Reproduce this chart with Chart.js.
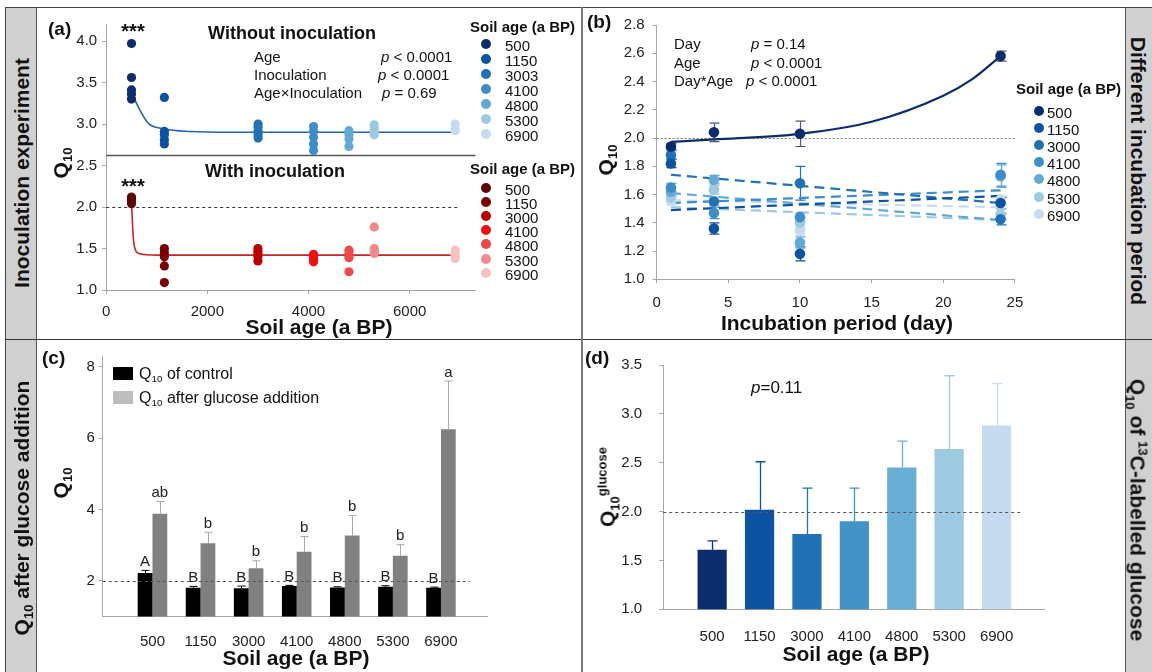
<!DOCTYPE html>
<html><head><meta charset="utf-8">
<script src="https://cdn.jsdelivr.net/npm/chart.js@4.4.1/dist/chart.umd.min.js"></script>
<style>
html,body{margin:0;padding:0;background:#fff;}
body{width:1152px;height:672px;position:relative;overflow:hidden;font-family:'Liberation Sans',Arial,sans-serif;color:#111;}
canvas{position:absolute;}
.t{position:absolute;white-space:nowrap;line-height:1;}
.l{transform:translateY(-50%);}
.c{transform:translate(-50%,-50%);}
.rl{transform:translate(-50%,-50%) rotate(-90deg);}
.rr{transform:translate(-50%,-50%) rotate(90deg);}
.b{font-weight:bold;}
sub{font-size:0.62em;vertical-align:-0.35em;line-height:0;}
sup{font-size:0.62em;vertical-align:0.65em;line-height:0;}
.box{position:absolute;}
.dot{position:absolute;border-radius:50%;width:10px;height:10px;transform:translate(-50%,-50%);}
</style></head><body>
<!-- frame -->
<div class="box" style="left:5px;top:7px;width:31px;height:665px;background:#d0d0d0;"></div>
<div class="box" style="left:1125px;top:7px;width:27px;height:665px;background:#d0d0d0;"></div>
<div class="box" style="left:5px;top:7px;width:1147px;height:1px;background:#444;"></div>
<div class="box" style="left:5px;top:7px;width:1px;height:665px;background:#444;"></div>
<div class="box" style="left:36px;top:7px;width:1px;height:665px;background:#555;"></div>
<div class="box" style="left:1125px;top:7px;width:1px;height:665px;background:#555;"></div>
<div class="box" style="left:5px;top:339px;width:1147px;height:1px;background:#333;"></div>
<div class="box" style="left:581px;top:7px;width:2px;height:665px;background:#7a7a7a;"></div>

<canvas id="ca" width="546" height="331" style="left:36px;top:8px;"></canvas>
<canvas id="cb" width="543" height="331" style="left:582px;top:8px;"></canvas>
<canvas id="cc" width="546" height="333" style="left:36px;top:339px;"></canvas>
<canvas id="cd" width="543" height="333" style="left:582px;top:339px;"></canvas>

<!-- side labels -->
<div class="t rl b" style="left:21px;top:173px;font-size:21px;">Inoculation experiment</div>
<div class="t rl b" style="left:21px;top:508px;font-size:21px;">Q<sub>10</sub> after glucose addition</div>
<div class="t rr b" style="left:1138px;top:171px;font-size:21px;">Different incubation period</div>
<div class="t rr b" style="left:1138px;top:510px;font-size:21px;">Q<sub>10</sub> of <sup>13</sup>C-labelled glucose</div>

<!-- panel a text -->
<div class="t l b" style="left:48px;top:28px;font-size:19px;">(a)</div>
<div class="t c b" style="left:133px;top:31px;font-size:20px;">***</div>
<div class="t c b" style="left:133px;top:186px;font-size:20px;">***</div>
<div class="t c b" style="left:292px;top:33px;font-size:18px;">Without inoculation</div>
<div class="t l" style="left:254px;top:56px;font-size:15px;">Age</div>
<div class="t l" style="left:381px;top:56px;font-size:15px;"><i>p</i> &lt; 0.0001</div>
<div class="t l" style="left:254px;top:74px;font-size:15px;">Inoculation</div>
<div class="t l" style="left:378px;top:74px;font-size:15px;"><i>p</i> &lt; 0.0001</div>
<div class="t l" style="left:254px;top:92px;font-size:15px;">Age×Inoculation</div>
<div class="t l" style="left:382px;top:92px;font-size:15px;"><i>p</i> = 0.69</div>
<div class="t c b" style="left:275px;top:171px;font-size:18px;">With inoculation</div>
<div class="t rl b" style="left:60px;top:163px;font-size:21px;">Q<sub>10</sub></div>
<div class="t c b" style="left:319px;top:326px;font-size:21px;">Soil age (a BP)</div>
<div class="t l b" style="left:470px;top:26px;font-size:15px;">Soil age (a BP)</div>
<div class="t l b" style="left:470px;top:168px;font-size:15px;">Soil age (a BP)</div>
<div id="legA"></div>

<!-- panel b text -->
<div class="t l b" style="left:587px;top:21px;font-size:19px;">(b)</div>
<div class="t l" style="left:674px;top:43px;font-size:15px;">Day</div>
<div class="t l" style="left:751px;top:43px;font-size:15px;"><i>p</i> = 0.14</div>
<div class="t l" style="left:674px;top:62px;font-size:15px;">Age</div>
<div class="t l" style="left:751px;top:62px;font-size:15px;"><i>p</i> &lt; 0.0001</div>
<div class="t l" style="left:674px;top:80px;font-size:15px;">Day*Age</div>
<div class="t l" style="left:746px;top:80px;font-size:15px;"><i>p</i> &lt; 0.0001</div>
<div class="t l b" style="left:1016px;top:88px;font-size:15px;">Soil age (a BP)</div>
<div class="t rl b" style="left:605px;top:160px;font-size:21px;">Q<sub>10</sub></div>
<div class="t c b" style="left:837px;top:322px;font-size:21px;">Incubation period (day)</div>
<div id="legB"></div>

<!-- panel c text -->
<div class="t l b" style="left:42px;top:357px;font-size:19px;">(c)</div>
<div class="box" style="left:113px;top:367px;width:20px;height:13px;background:#000;"></div>
<div class="t l" style="left:139px;top:374px;font-size:16px;">Q<sub>10</sub> of control</div>
<div class="box" style="left:113px;top:391px;width:20px;height:13px;background:#bdbdbd;"></div>
<div class="t l" style="left:139px;top:398px;font-size:16px;">Q<sub>10</sub> after glucose addition</div>
<div class="t rl b" style="left:60px;top:483px;font-size:21px;">Q<sub>10</sub></div>
<div class="t c b" style="left:296px;top:657px;font-size:21px;">Soil age (a BP)</div>

<!-- panel d text -->
<div class="t l b" style="left:585px;top:357px;font-size:19px;">(d)</div>
<div class="t l" style="left:751px;top:387px;font-size:17px;"><i>p</i>=0.11</div>
<div class="t rl b" style="left:607px;top:487px;font-size:21px;">Q<sub>10</sub><sup>glucose</sup></div>
<div class="t c b" style="left:856px;top:653px;font-size:21px;">Soil age (a BP)</div>

<script>
// ---------------- data ----------------
// Panel (a)
const agesWithout = [500, 1150, 3003, 4100, 4800, 5300, 6900];
const agesWith = [500, 1150, 3000, 4100, 4800, 5300, 6900];
const q10Without = [
  [3.97, 3.56, 3.41, 3.36, 3.30],
  [3.32, 2.91, 2.87, 2.81, 2.76],
  [3.00, 2.96, 2.91, 2.87, 2.83],
  [2.97, 2.91, 2.84, 2.76, 2.68],
  [2.92, 2.87, 2.82, 2.73],
  [2.99, 2.95, 2.91, 2.87],
  [3.00, 2.95, 2.92]
];
const q10With = [
  [2.12, 2.10, 2.08, 2.04],
  [1.50, 1.45, 1.40, 1.29, 1.09],
  [1.50, 1.46, 1.43, 1.40, 1.35],
  [1.43, 1.40, 1.37, 1.34],
  [1.48, 1.44, 1.42, 1.39, 1.22],
  [1.76, 1.50, 1.47, 1.44],
  [1.48, 1.43, 1.41, 1.38]
];
const fitWithoutAge = [500, 664, 829, 1158, 1651, 2500, 6900];
const fitWithoutQ10 = [3.38, 3.17, 3.01, 2.94, 2.91, 2.90, 2.90];
const fitWithAge = [500, 520, 540, 580, 650, 800, 1200, 6900];
const fitWithQ10 = [2.06, 1.80, 1.60, 1.48, 1.44, 1.425, 1.42, 1.42];
const xTicksA = [0, 2000, 4000, 6000];
const yTicksA = [1.0, 1.5, 2.0, 2.5, 3.0, 3.5, 4.0];

// Panel (b)
const days = [1, 4, 10, 24];
const agesB = ['500', '1150', '3000', '4100', '4800', '5300', '6900'];
const q10Day = [
  [1.94, 2.04, 2.03, 2.58],
  [1.82, 1.36, 1.18, 1.54],
  [1.88, 1.55, 1.68, 1.425],
  [1.65, 1.47, 1.44, 1.74],
  [1.62, 1.705, 1.26, 1.73],
  [1.58, 1.635, 1.40, 1.46],
  [1.555, 1.55, 1.345, 1.565]
];
const q10DaySE = [
  [0.02, 0.065, 0.09, 0.035],
  [0.03, 0.04, 0.05, 0.04],
  [0.03, 0.03, 0.12, 0.04],
  [0.03, 0.04, 0.03, 0.08],
  [0.03, 0.03, 0.04, 0.08],
  [0.03, 0.03, 0.04, 0.04],
  [0.03, 0.03, 0.03, 0.03]
];
const trendDays = [1, 24];
const trendQ10 = [null, [1.49, 1.59], [1.74, 1.54], [1.54, 1.63], [1.61, 1.42], [1.51, 1.42], [1.56, 1.51]];
const curve500Days = [1, 4, 10, 15, 20, 22, 24];
const curve500Q10 = [1.973, 1.99, 2.03, 2.115, 2.30, 2.415, 2.58];

// Panel (c)
const agesC = ['500', '1150', '3000', '4100', '4800', '5300', '6900'];
const q10Control = [2.22, 1.80, 1.79, 1.85, 1.81, 1.83, 1.80];
const q10ControlSE = [0.07, 0.04, 0.06, 0.02, 0.02, 0.03, 0.02];
const q10Glucose = [3.88, 3.05, 2.35, 2.81, 3.27, 2.70, 6.25];
const q10GlucoseSE = [0.34, 0.31, 0.21, 0.43, 0.56, 0.31, 1.35];
const letterControl = ['A', 'B', 'B', 'B', 'B', 'B', 'B'];
const letterGlucose = ['ab', 'b', 'b', 'b', 'b', 'b', 'a'];
const yTicksC = [2, 4, 6, 8];

// Panel (d)
const agesD = ['500', '1150', '3000', '4100', '4800', '5300', '6900'];
const q10Labelled = [1.61, 2.02, 1.77, 1.90, 2.45, 2.64, 2.88];
const q10LabelledSE = [0.09, 0.49, 0.47, 0.34, 0.27, 0.75, 0.43];

// palettes
const bluePalette = ['#0b2d6b', '#0d52a0', '#2171b5', '#3d8ec8', '#63a9d8', '#9ecae1', '#c6dbef'];
const redPalette = ['#5e0606', '#7a0000', '#b80000', '#ee1111', '#f04848', '#f08a8a', '#f7c2c2'];
const barPalette = ['#0c2d6b', '#0b52a0', '#2171b5', '#4292c6', '#6aaed6', '#9ecae1', '#c6dbef'];

// ---------------- helpers ----------------
Chart.defaults.font.family = "'Liberation Sans', Arial, sans-serif";
Chart.defaults.color = '#222';
const AX = '#a6a6a6';

function axis(o) {
  return Object.assign({
    border: {display: true, color: AX, width: 1},
    grid: {display: true, drawOnChartArea: false, drawTicks: true, tickLength: 4, color: AX, offset: false},
  }, o);
}
function hLine(chart, yv, x0, x1, color, dash, w) {
  const {ctx, scales: {x, y}} = chart;
  const py = Math.round(y.getPixelForValue(yv)) + 0.5;
  ctx.save();
  ctx.strokeStyle = color; ctx.lineWidth = w; ctx.setLineDash(dash);
  ctx.beginPath(); ctx.moveTo(x.getPixelForValue(x0), py); ctx.lineTo(x.getPixelForValue(x1), py); ctx.stroke();
  ctx.restore();
}
function drawErrors(chart, phase) {
  const ctx = chart.ctx, yS = chart.scales.y;
  chart.data.datasets.forEach((ds, i) => {
    if (!ds.err || ds.errPhase !== phase) return;
    const meta = chart.getDatasetMeta(i);
    meta.data.forEach((el, j) => {
      const v = ds.data[j].y, e = ds.err[j];
      const x = Math.round(el.x) + 0.5;
      const yTop = yS.getPixelForValue(v + e);
      const yBot = ds.errBoth ? yS.getPixelForValue(v - e) : yS.getPixelForValue(v);
      const cap = ds.errCap || 4;
      ctx.save();
      ctx.strokeStyle = ds.errColor; ctx.lineWidth = ds.errWidth || 1;
      ctx.beginPath();
      ctx.moveTo(x, yBot); ctx.lineTo(x, yTop);
      ctx.moveTo(x - cap, yTop); ctx.lineTo(x + cap, yTop);
      if (ds.errBoth) { ctx.moveTo(x - cap, yBot); ctx.lineTo(x + cap, yBot); }
      ctx.stroke();
      if (ds.letters) {
        ctx.fillStyle = '#222'; ctx.font = "15px 'Liberation Sans', Arial, sans-serif";
        ctx.textAlign = 'center'; ctx.textBaseline = 'bottom';
        ctx.fillText(ds.letters[j], el.x, yTop - 1);
      }
      ctx.restore();
    });
  });
}
const errPlugin = {
  id: 'errPlugin',
  beforeDatasetsDraw(chart) { drawErrors(chart, 'before'); },
  afterDatasetsDraw(chart) { drawErrors(chart, 'after'); }
};
const base = {responsive: false, animation: false, events: [], plugins: {legend: {display: false}, tooltip: {enabled: false}}};

// legends (HTML)
function legend(id, labels, colors, x0, xt, y0, step) {
  const host = document.getElementById(id);
  labels.forEach((lab, i) => {
    const d = document.createElement('div');
    d.className = 'dot'; d.style.left = x0 + 'px'; d.style.top = (y0 + i * step) + 'px'; d.style.background = colors[i];
    host.appendChild(d);
    const t = document.createElement('div');
    t.className = 't l'; t.style.left = xt + 'px'; t.style.top = (y0 + i * step + 1) + 'px'; t.style.fontSize = '15px';
    t.textContent = lab; host.appendChild(t);
  });
}
legend('legA', agesWithout.map(String), bluePalette, 486, 505, 44, 15);
legend('legA', agesWith.map(String), redPalette, 486, 505, 188, 14.1);
legend('legB', agesB, bluePalette, 1039, 1047, 110.5, 17.2);

// ---------------- panel (a) ----------------
const dsA = [];
q10Without.forEach((vals, i) => dsA.push({type: 'scatter', data: vals.map(v => ({x: agesWithout[i], y: v})),
  backgroundColor: bluePalette[i], borderWidth: 0, pointRadius: 4.6, order: 0}));
q10With.forEach((vals, i) => dsA.push({type: 'scatter', data: vals.map(v => ({x: agesWith[i], y: v})),
  backgroundColor: redPalette[i], borderWidth: 0, pointRadius: 4.6, order: 0}));
dsA.push({type: 'line', data: fitWithoutAge.map((a, i) => ({x: a, y: fitWithoutQ10[i]})), borderColor: '#2466ad',
  borderWidth: 1.6, pointRadius: 0, cubicInterpolationMode: 'monotone', order: 1});
dsA.push({type: 'line', data: fitWithAge.map((a, i) => ({x: a, y: fitWithQ10[i]})), borderColor: '#c0262c',
  borderWidth: 1.6, pointRadius: 0, cubicInterpolationMode: 'monotone', order: 1});

new Chart(document.getElementById('ca'), {
  type: 'scatter',
  data: {datasets: dsA},
  options: Object.assign({}, base, {
    layout: {padding: {left: 0, top: 16.4, right: 106.6, bottom: 0}, autoPadding: false},
    scales: {
      x: axis({type: 'linear', min: 0, max: 7300,
        afterBuildTicks: s => { s.ticks = xTicksA.map(v => ({value: v})); },
        afterFit: s => { s.height = 49; },
        ticks: {padding: 9, font: {size: 15}, color: '#222', callback: v => String(v)}}),
      y: axis({min: 1, max: 4.2,
        afterBuildTicks: s => { s.ticks = yTicksA.map(v => ({value: v})); },
        afterFit: s => { s.width = 70.2; },
        ticks: {padding: 5, font: {size: 15}, color: '#222', callback: v => v.toFixed(1)}})
    }
  }),
  plugins: [{id: 'refA', beforeDatasetsDraw(chart) {
    hLine(chart, 2.0, 0, 7000, '#333', [3, 3], 1);
    hLine(chart, 2.63, 0, 7300, '#555', [], 1.5);
  }}]
});

// ---------------- panel (b) ----------------
const dsB = [];
q10Day.forEach((vals, i) => dsB.push({type: 'scatter', data: vals.map((v, j) => ({x: days[j], y: v})),
  backgroundColor: bluePalette[i], borderWidth: 0, pointRadius: 5.3, order: 0,
  err: q10DaySE[i], errBoth: true, errPhase: 'before', errColor: i === 0 ? '#4a5a78' : bluePalette[i], errCap: 5, errWidth: 1.2}));
trendQ10.forEach((vals, i) => { if (!vals) return; dsB.push({type: 'line', data: vals.map((v, j) => ({x: trendDays[j], y: v})),
  borderColor: bluePalette[i], borderWidth: 2.2, borderDash: [10, 6], pointRadius: 0, order: 1}); });
dsB.push({type: 'line', data: curve500Q10.map((v, j) => ({x: curve500Days[j], y: v})), borderColor: bluePalette[0],
  borderWidth: 2.2, pointRadius: 0, cubicInterpolationMode: 'monotone', order: 1});

new Chart(document.getElementById('cb'), {
  type: 'scatter',
  data: {datasets: dsB},
  options: Object.assign({}, base, {
    layout: {padding: {left: 0, top: 13.7, right: 110.1, bottom: 0}, autoPadding: false},
    scales: {
      x: axis({type: 'linear', min: 0, max: 25, afterFit: s => { s.height = 59.7; },
        ticks: {stepSize: 5, padding: 11, font: {size: 15}, color: '#222'}}),
      y: axis({min: 1, max: 2.8, afterFit: s => { s.width = 74.6; },
        ticks: {stepSize: 0.2, padding: 8, font: {size: 15}, color: '#222', callback: v => v.toFixed(1)}})
    }
  }),
  plugins: [errPlugin, {id: 'refB', beforeDatasetsDraw(chart) { hLine(chart, 2.0, 0, 25, '#777', [2, 2], 1); }}]
});

// ---------------- panel (c) ----------------
new Chart(document.getElementById('cc'), {
  type: 'bar',
  data: {datasets: [
    {data: q10Control.map((v, i) => ({x: i + 1, y: v})), backgroundColor: '#000',
      err: q10ControlSE, errPhase: 'after', errColor: '#000', errCap: 4, letters: letterControl},
    {data: q10Glucose.map((v, i) => ({x: i + 1, y: v})), backgroundColor: '#808080',
      err: q10GlucoseSE, errPhase: 'after', errColor: '#a8a8a8', errCap: 4, letters: letterGlucose}
  ]},
  options: Object.assign({}, base, {
    layout: {padding: {left: 0, top: 17, right: 94.4, bottom: 0}, autoPadding: false},
    datasets: {bar: {categoryPercentage: 0.615, barPercentage: 1}},
    scales: {
      x: axis({type: 'linear', min: -0.033, max: 7.97, offset: false,
        afterBuildTicks: s => { s.ticks = agesC.map((a, i) => ({value: i + 1})); },
        afterFit: s => { s.height = 55.6; },
        grid: {display: false},
        ticks: {padding: 8, font: {size: 15}, color: '#222', callback: v => agesC[v - 1]}}),
      y: axis({min: 1, max: 8.3,
        afterBuildTicks: s => { s.ticks = yTicksC.map(v => ({value: v})); },
        afterFit: s => { s.width = 66.8; },
        ticks: {padding: 4, font: {size: 15}, color: '#222'}})
    }
  }),
  plugins: [errPlugin, {id: 'refC', afterDatasetsDraw(chart) { hLine(chart, 2.0, -0.033, 7.6, '#555', [3, 3], 1); }}]
});

// ---------------- panel (d) ----------------
new Chart(document.getElementById('cd'), {
  type: 'bar',
  data: {datasets: [
    {data: q10Labelled.map((v, i) => ({x: i + 1, y: v})), backgroundColor: barPalette,
      err: q10LabelledSE, errPhase: 'after', errColor: barPalette, errCap: 5, errWidth: 1.3}
  ]},
  options: Object.assign({}, base, {
    layout: {padding: {left: 0, top: 17, right: 81, bottom: 0}, autoPadding: false},
    datasets: {bar: {categoryPercentage: 0.616, barPercentage: 1}},
    scales: {
      x: axis({type: 'linear', min: -0.032, max: 8.0, offset: false,
        afterBuildTicks: s => { s.ticks = agesD.map((a, i) => ({value: i + 1})); },
        afterFit: s => { s.height = 62.7; },
        grid: {display: false},
        ticks: {padding: 11, font: {size: 15}, color: '#222', callback: v => agesD[v - 1]}}),
      y: axis({min: 1, max: 3.5, afterFit: s => { s.width = 81.2; },
        ticks: {stepSize: 0.5, padding: 17, font: {size: 15}, color: '#222', callback: v => v.toFixed(1)}})
    }
  }),
  plugins: [{id: 'errD', afterDatasetsDraw(chart) {
    const ds = chart.data.datasets[0], meta = chart.getDatasetMeta(0), ctx = chart.ctx, yS = chart.scales.y;
    meta.data.forEach((el, j) => {
      const x = Math.round(el.x) + 0.5, yTop = yS.getPixelForValue(ds.data[j].y + ds.err[j]), yB = el.y;
      ctx.save(); ctx.strokeStyle = ds.errColor[j]; ctx.lineWidth = 1.3;
      ctx.beginPath(); ctx.moveTo(x, yB); ctx.lineTo(x, yTop); ctx.moveTo(x - 5, yTop); ctx.lineTo(x + 5, yTop); ctx.stroke();
      ctx.restore();
    });
    hLine(chart, 2.0, -0.032, 7.56, '#555', [3, 3], 1);
  }}]
});
</script>
</body></html>
